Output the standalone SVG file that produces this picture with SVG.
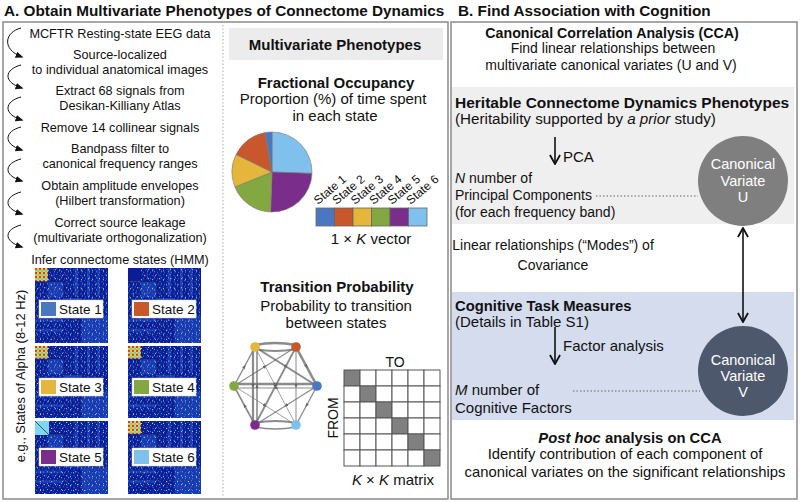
<svg xmlns="http://www.w3.org/2000/svg" width="800" height="502" viewBox="0 0 800 502">
<defs>
<style>
text{font-family:"Liberation Sans",Arial,Helvetica,sans-serif;fill:#111}
.h{font-size:15.3px;font-weight:bold}
.s{font-size:12.7px;text-anchor:middle}
.m{font-size:15px;text-anchor:middle}
.r{font-size:15px}
.n{font-size:14px}
.b{font-weight:bold}
.i{font-style:italic}
.w{fill:#fff;font-size:14.5px;text-anchor:middle}
.frame{fill:#fff;stroke:#8a8a8a;stroke-width:1.5}
.curl{fill:none;stroke:#111;stroke-width:1;marker-end:url(#ah)}
.lab{fill:#fff;stroke:#ccc;stroke-width:0.5}
.lt{font-size:13.5px}
.e{stroke:#6e6e6e;fill:none;stroke-opacity:.8;marker-mid:url(#mm)}
.cell{fill:#fff;stroke:#555;stroke-width:1}
.dg{fill:#808080;stroke:#555;stroke-width:1}
.dot{stroke:#666;stroke-width:1.2;stroke-dasharray:1.5 2;fill:none}
.ar{stroke:#111;stroke-width:1.6;fill:none}
</style>
<marker id="ah" viewBox="0 0 10 10" refX="8" refY="5" markerWidth="8" markerHeight="8" orient="auto"><path d="M0,1 L10,5 L0,9 Z" fill="#111"/></marker>
<marker id="ak" viewBox="0 0 10 10" refX="9" refY="5" markerWidth="7" markerHeight="7" orient="auto-start-reverse"><path d="M1,0.5 L9,5 L1,9.5" fill="none" stroke="#111" stroke-width="1.6"/></marker>
<marker id="mm" viewBox="0 0 10 10" refX="5" refY="5" markerWidth="4" markerHeight="4" orient="auto" markerUnits="userSpaceOnUse"><path d="M0,1 L10,5 L0,9 Z" fill="#666"/></marker>
<pattern id="sp1" width="7" height="6" patternUnits="userSpaceOnUse">
<rect x="0" y="0" width="1" height="1" fill="#2f6fe0"/><rect x="3" y="1" width="2" height="1" fill="#1f50d0"/><rect x="5" y="3" width="1" height="1" fill="#58c8f0"/><rect x="1" y="4" width="1" height="1" fill="#3a8ae8"/><rect x="4" y="5" width="1" height="1" fill="#1a40c0"/>
</pattern>
<pattern id="sp2" width="11" height="9" patternUnits="userSpaceOnUse">
<rect x="2" y="2" width="1" height="1" fill="#f0e040"/><rect x="8" y="6" width="1" height="1" fill="#e04020"/><rect x="5" y="7" width="1" height="1" fill="#90f0c0"/><rect x="9" y="1" width="1" height="1" fill="#80e0ff"/>
</pattern>
<pattern id="hot" width="4" height="4" patternUnits="userSpaceOnUse">
<rect width="4" height="4" fill="#e8d440"/><rect width="2" height="2" fill="#d43a20"/><rect x="2" y="2" width="2" height="2" fill="#5ad0e0"/>
</pattern>
<symbol id="cm" viewBox="0 0 73 74" preserveAspectRatio="none">
<rect width="73" height="74" fill="#0b1d96"/>
<g fill="#2c64dc" opacity=".4">
<rect x="13" y="13" width="16" height="16"/><rect x="29" y="29" width="18" height="18"/><rect x="47" y="47" width="26" height="27"/>
<rect x="40" y="0" width="3" height="28"/><rect x="52" y="0" width="3" height="28"/><rect x="62" y="0" width="3" height="28"/>
<rect x="0" y="50" width="28" height="3"/><rect x="0" y="60" width="28" height="3"/>
</g>
<rect width="73" height="74" fill="url(#sp1)"/>
<rect width="73" height="74" fill="url(#sp2)"/>
<rect x="0" y="0" width="13" height="13" fill="url(#hot)"/>
<path d="M13,13 H29 V29 H47 V47" fill="none" stroke="#061066" stroke-width="0.8"/>
</symbol>
</defs>
<rect width="800" height="502" fill="#fff"/>

<!-- Panel A -->
<g id="panelA">
<text class="h" x="4" y="16">A. Obtain Multivariate Phenotypes of Connectome Dynamics</text>
<rect class="frame" x="3" y="22" width="445" height="477"/>
<line x1="223" y1="25" x2="223" y2="497" stroke="#aaa" stroke-width="1" stroke-dasharray="1.5 2"/>
</g>

<g id="steps">
<text class="s" x="120" y="38">MCFTR Resting-state EEG data</text>
<text class="s" x="120" y="59">Source-localized</text>
<text class="s" x="120" y="74">to individual anatomical images</text>
<text class="s" x="120" y="95">Extract 68 signals from</text>
<text class="s" x="120" y="110">Desikan-Killiany Atlas</text>
<text class="s" x="120" y="132">Remove 14 collinear signals</text>
<text class="s" x="120" y="153">Bandpass filter to</text>
<text class="s" x="120" y="168">canonical frequency ranges</text>
<text class="s" x="120" y="190">Obtain amplitude envelopes</text>
<text class="s" x="120" y="205">(Hilbert transformation)</text>
<text class="s" x="120" y="227">Correct source leakage</text>
<text class="s" x="120" y="242">(multivariate orthogonalization)</text>
<text class="s" x="120" y="264">Infer connectome states (HMM)</text>
</g>

<g id="curls">
<path class="curl" d="M21,28 C5,32 1,49 22,57"/>
<path class="curl" d="M21,65 C5,69 2,82 22,88"/>
<path class="curl" d="M21,97 C5,101 2,114 22,120"/>
<path class="curl" d="M21,127 C5,131 2,144 22,150"/>
<path class="curl" d="M21,159 C5,163 2,175 22,181"/>
<path class="curl" d="M21,192 C5,196 2,208 22,214"/>
<path class="curl" d="M21,225 C5,229 2,241 22,247"/>
</g>

<g id="states">
<text transform="translate(25,376) rotate(-90)" text-anchor="middle" style="font-size:12.9px">e.g., States of Alpha (8-12 Hz)</text>
<use href="#cm" x="35" y="268" width="73" height="75"/>
<use href="#cm" x="128" y="268" width="73" height="75"/>
<use href="#cm" x="35" y="346" width="73" height="72"/>
<use href="#cm" x="128" y="346" width="73" height="72"/>
<use href="#cm" x="35" y="421" width="73" height="73"/>
<use href="#cm" x="128" y="421" width="73" height="73"/>
<rect x="128" y="268" width="13" height="13" fill="#0b1d96"/>
<rect x="35" y="421" width="14" height="14" fill="#7fd6f0"/>
<line x1="35" y1="421" x2="49" y2="435" stroke="#233" stroke-width="0.8"/>
<g id="s1"><rect class="lab" x="39" y="300" width="64" height="18"/><rect x="41" y="302" width="15" height="14" fill="#4a78c0"/><text class="lt" x="59" y="314">State 1</text></g>
<g id="s2"><rect class="lab" x="132" y="300" width="64" height="18"/><rect x="134" y="302" width="15" height="14" fill="#c8582c"/><text class="lt" x="152" y="314">State 2</text></g>
<g id="s3"><rect class="lab" x="39" y="378" width="64" height="18"/><rect x="41" y="380" width="15" height="14" fill="#e5b53c"/><text class="lt" x="59" y="392">State 3</text></g>
<g id="s4"><rect class="lab" x="132" y="378" width="64" height="18"/><rect x="134" y="380" width="15" height="14" fill="#83a842"/><text class="lt" x="152" y="392">State 4</text></g>
<g id="s5"><rect class="lab" x="39" y="448" width="64" height="18"/><rect x="41" y="450" width="15" height="14" fill="#7b2d8c"/><text class="lt" x="59" y="462">State 5</text></g>
<g id="s6"><rect class="lab" x="132" y="448" width="64" height="18"/><rect x="134" y="450" width="15" height="14" fill="#80c0ec"/><text class="lt" x="152" y="462">State 6</text></g>
</g>

<!-- Middle column -->
<g id="mvp">
<rect x="229" y="28" width="214" height="32" fill="#ececec"/>
<text class="m b" x="335" y="50">Multivariate Phenotypes</text>
</g>
<g id="fo">
<text class="m b" x="336" y="88">Fractional Occupancy</text>
<text class="m" x="333" y="104">Proportion (%) of time spent</text>
<text class="m" x="335" y="121">in each state</text>
<g stroke="#777" stroke-width="0.6">
<path d="M272,172 L272,132 A40,40 0 0 1 311.98,173.4 Z" fill="#80c0ec"/>
<path d="M272,172 L311.98,173.4 A40,40 0 0 1 270.6,211.98 Z" fill="#7b2d8c"/>
<path d="M272,172 L270.6,211.98 A40,40 0 0 1 234.91,186.98 Z" fill="#83a842"/>
<path d="M272,172 L234.91,186.98 A40,40 0 0 1 236.05,154.46 Z" fill="#e5b53c"/>
<path d="M272,172 L236.05,154.46 A40,40 0 0 1 265.05,132.61 Z" fill="#c8582c"/>
<path d="M272,172 L265.05,132.61 A40,40 0 0 1 272,132 Z" fill="#4a78c0"/>
</g>
<g style="font-size:12px">
<text transform="translate(318,205) rotate(-40)">State 1</text>
<text transform="translate(336.5,205) rotate(-40)">State 2</text>
<text transform="translate(355,205) rotate(-40)">State 3</text>
<text transform="translate(373.5,205) rotate(-40)">State 4</text>
<text transform="translate(392,205) rotate(-40)">State 5</text>
<text transform="translate(410.5,205) rotate(-40)">State 6</text>
</g>
<g stroke="#666" stroke-width="0.8">
<rect x="316" y="208" width="18.5" height="18" fill="#4a78c0"/>
<rect x="334.5" y="208" width="18.5" height="18" fill="#c8582c"/>
<rect x="353" y="208" width="18.5" height="18" fill="#e5b53c"/>
<rect x="371.5" y="208" width="18.5" height="18" fill="#83a842"/>
<rect x="390" y="208" width="18.5" height="18" fill="#7b2d8c"/>
<rect x="408.5" y="208" width="18.5" height="18" fill="#80c0ec"/>
</g>
<text class="m" x="371" y="244">1 × <tspan class="i">K</tspan> vector</text>
</g>

<g id="tp">
<text class="m b" x="337" y="292">Transition Probability</text>
<text class="m" x="336" y="311">Probability to transition</text>
<text class="m" x="336" y="328">between states</text>
<g id="net">
<path class="e" stroke-width="2.4" d="M255,345 Q275,341 296,345"/>
<path class="e" stroke-width="1.8" d="M296,349 Q275,353 255,349"/>
<path class="e" stroke-width="2.6" d="M296,347 L306.5,366.5 L317,386"/>
<path class="e" stroke-width="1.3" d="M317,386 L306.5,405.5 L296,425"/>
<path class="e" stroke-width="2" d="M296,423 Q275,419 255,423"/>
<path class="e" stroke-width="1.4" d="M255,427 Q275,431 296,427"/>
<path class="e" stroke-width="1.6" d="M255,425 L244.5,405.5 L234,386"/>
<path class="e" stroke-width="1.4" d="M234,386 L244.5,366.5 L255,347"/>
<path class="e" stroke-width="2.6" d="M234,384 L275.5,384 L317,384"/>
<path class="e" stroke-width="1.2" d="M317,388 L275.5,388 L234,388"/>
<path class="e" stroke-width="2.2" d="M253,347 L253,386 L253,425"/>
<path class="e" stroke-width="1.6" d="M257,425 L257,386 L257,347"/>
<path class="e" stroke-width="1" d="M296,347 L296,386 L296,425"/>
<path class="e" stroke-width="2" d="M255,347 L286,366.5 L317,386"/>
<path class="e" stroke-width="1.2" d="M317,386 L286,405.5 L255,425"/>
<path class="e" stroke-width="1.8" d="M296,347 L275.5,386 L255,425"/>
<path class="e" stroke-width="0.8" d="M255,347 L275.5,386 L296,425"/>
<path class="e" stroke-width="1.2" d="M234,386 L265,366.5 L296,347"/>
<path class="e" stroke-width="0.8" d="M234,386 L265,405.5 L296,425"/>
<g>
<circle cx="255" cy="347" r="4.8" fill="#e5b53c"/>
<circle cx="296" cy="347" r="4.8" fill="#c8582c"/>
<circle cx="317" cy="386" r="4.8" fill="#4a78c0"/>
<circle cx="296" cy="425" r="4.8" fill="#80c0ec"/>
<circle cx="255" cy="425" r="4.8" fill="#7b2d8c"/>
<circle cx="234" cy="386" r="4.8" fill="#83a842"/>
</g>
</g>
<text class="m" x="395" y="367" style="font-size:14px">TO</text>
<text class="m" transform="translate(338,418) rotate(-90)" style="font-size:14px">FROM</text>
<g id="grid">
<rect class="dg" x="344" y="370" width="16" height="16"/><rect class="cell" x="360" y="370" width="16" height="16"/><rect class="cell" x="376" y="370" width="16" height="16"/><rect class="cell" x="392" y="370" width="16" height="16"/><rect class="cell" x="408" y="370" width="16" height="16"/><rect class="cell" x="424" y="370" width="16" height="16"/>
<rect class="cell" x="344" y="386" width="16" height="16"/><rect class="dg" x="360" y="386" width="16" height="16"/><rect class="cell" x="376" y="386" width="16" height="16"/><rect class="cell" x="392" y="386" width="16" height="16"/><rect class="cell" x="408" y="386" width="16" height="16"/><rect class="cell" x="424" y="386" width="16" height="16"/>
<rect class="cell" x="344" y="402" width="16" height="16"/><rect class="cell" x="360" y="402" width="16" height="16"/><rect class="dg" x="376" y="402" width="16" height="16"/><rect class="cell" x="392" y="402" width="16" height="16"/><rect class="cell" x="408" y="402" width="16" height="16"/><rect class="cell" x="424" y="402" width="16" height="16"/>
<rect class="cell" x="344" y="418" width="16" height="16"/><rect class="cell" x="360" y="418" width="16" height="16"/><rect class="cell" x="376" y="418" width="16" height="16"/><rect class="dg" x="392" y="418" width="16" height="16"/><rect class="cell" x="408" y="418" width="16" height="16"/><rect class="cell" x="424" y="418" width="16" height="16"/>
<rect class="cell" x="344" y="434" width="16" height="16"/><rect class="cell" x="360" y="434" width="16" height="16"/><rect class="cell" x="376" y="434" width="16" height="16"/><rect class="cell" x="392" y="434" width="16" height="16"/><rect class="dg" x="408" y="434" width="16" height="16"/><rect class="cell" x="424" y="434" width="16" height="16"/>
<rect class="cell" x="344" y="450" width="16" height="16"/><rect class="cell" x="360" y="450" width="16" height="16"/><rect class="cell" x="376" y="450" width="16" height="16"/><rect class="cell" x="392" y="450" width="16" height="16"/><rect class="cell" x="408" y="450" width="16" height="16"/><rect class="dg" x="424" y="450" width="16" height="16"/>
</g>
<text class="m" x="393" y="485"><tspan class="i">K</tspan> × <tspan class="i">K</tspan> matrix</text>
</g>

<!-- Panel B -->
<g id="panelB">
<text class="h" x="458" y="16">B. Find Association with Cognition</text>
<rect class="frame" x="451" y="22" width="346" height="477"/>
</g>
<g id="cca">
<text class="b" x="612" y="38" text-anchor="middle" style="font-size:14.2px">Canonical Correlation Analysis (CCA)</text>
<text x="613" y="53" text-anchor="middle" style="font-size:14px">Find linear relationships between</text>
<text x="611" y="70" text-anchor="middle" style="font-size:14px">multivariate canonical variates (U and V)</text>
</g>
<g id="herit">
<rect x="452" y="87" width="342" height="137" fill="#efefef"/>
<text class="b" x="455" y="108" style="font-size:15.5px">Heritable Connectome Dynamics Phenotypes</text>
<text x="455" y="124" style="font-size:15.2px">(Heritability supported by <tspan class="i">a prior</tspan> study)</text>
<path class="ar" d="M555,137 V164" marker-end="url(#ak)"/>
<text class="r" x="563" y="162">PCA</text>
<text class="n" x="455" y="183"><tspan class="i">N</tspan> number of</text>
<text class="n" x="455" y="200">Principal Components</text>
<text class="n" x="455" y="217">(for each frequency band)</text>
<line class="dot" x1="596" y1="196" x2="698" y2="196"/>
</g>
<g id="cvU">
<circle cx="743" cy="181" r="45" fill="#7f7f7f"/>
<text class="w" x="743" y="169">Canonical</text>
<text class="w" x="743" y="186">Variate</text>
<text class="w" x="743" y="202">U</text>
</g>
<text x="553" y="250" text-anchor="middle" style="font-size:14px">Linear relationships (“Modes”) of</text>
<text x="553" y="270" text-anchor="middle" style="font-size:14px">Covariance</text>
<g id="cog">
<rect x="452" y="292" width="342" height="128" fill="#d4dcee"/>
<text class="b" x="455" y="311" style="font-size:14.8px">Cognitive Task Measures</text>
<text class="r" x="455" y="327">(Details in Table S1)</text>
<path class="ar" d="M555,327 V364" marker-end="url(#ak)"/>
<text class="r" x="563" y="351">Factor analysis</text>
<text class="r" x="455" y="395"><tspan class="i">M</tspan> number of</text>
<text class="r" x="455" y="413">Cognitive Factors</text>
<line class="dot" x1="573" y1="391" x2="700" y2="391"/>
</g>
<g id="cvV">
<circle cx="743" cy="371" r="45" fill="#4e586c"/>
<text class="w" x="743" y="365">Canonical</text>
<text class="w" x="743" y="381">Variate</text>
<text class="w" x="743" y="397">V</text>
</g>
<g id="posthoc">
<text x="630" y="443" text-anchor="middle" style="font-size:14.8px"><tspan class="b i">Post hoc</tspan><tspan class="b"> analysis on CCA</tspan></text>
<text x="625" y="459" text-anchor="middle" style="font-size:14.8px">Identify contribution of each component of</text>
<text x="625" y="477" text-anchor="middle" style="font-size:14.8px">canonical variates on the significant relationships</text>
</g>
<g id="connectors">
<path class="ar" d="M743,228 V322" marker-start="url(#ak)" marker-end="url(#ak)"/>
</g>
</svg>
